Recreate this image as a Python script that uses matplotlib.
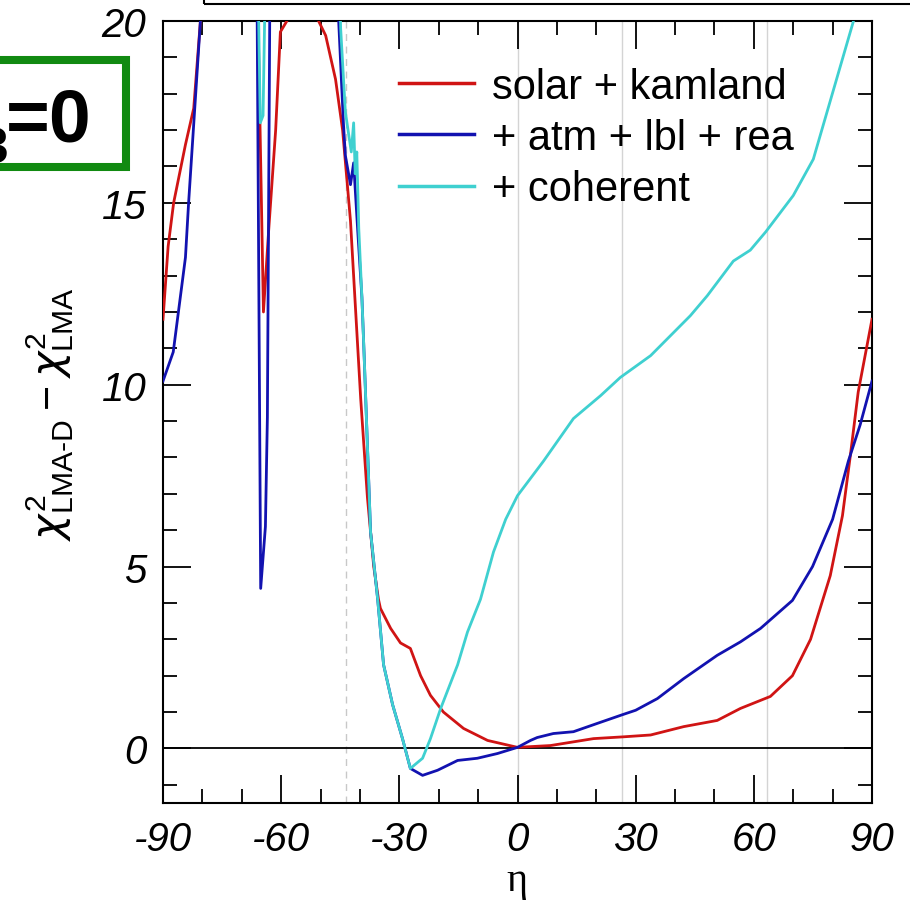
import numpy as np
import matplotlib
matplotlib.use("Agg")
import matplotlib.pyplot as plt
from matplotlib.ticker import MultipleLocator
from matplotlib.patches import Rectangle

plt.rcParams['font.family'] = ['Liberation Sans', 'DejaVu Sans']
plt.rcParams['mathtext.fontset'] = 'custom'
plt.rcParams['mathtext.rm'] = 'Liberation Sans'
plt.rcParams['mathtext.it'] = 'DejaVu Sans:italic'
plt.rcParams['axes.unicode_minus'] = False

# eta (deg) and delta chi^2 for each data combination
eta_sk = [-90, -88.7, -87.3, -84.3, -82.2, -80.5, -78, -70, -67, -66.2, -64.5, -63.2,
          -61.4, -60.2, -58, -55, -52, -50.5, -48.7, -46.2, -44.4, -42.4, -40.6, -39.8,
          -38.1, -36.5, -35.3, -34.8, -32.2, -29.7, -27.2, -24.6, -22.1, -18.8, -13.7,
          -7.6, 0, 8.4, 19.3, 27, 33.8, 42.2, 50.7, 56.6, 64.2, 69.8, 74.4, 79.4, 82.5,
          84.5, 86.5, 90]
chi_sk = [11.8, 13.8, 15.0, 16.6, 17.6, 20.0, 23, 30, 30, 22, 12.0, 14.2,
          17.0, 19.7, 20.1, 21.0, 20.8, 20.0, 19.6, 18.4, 17.0, 14.5, 11.1, 9.6,
          6.9, 5.0, 4.1, 3.85, 3.3, 2.9, 2.75, 2.0, 1.46, 1.0, 0.55,
          0.22, 0.03, 0.08, 0.27, 0.32, 0.37, 0.6, 0.77, 1.1, 1.43, 2.0, 3.0, 4.75, 6.4,
          8.05, 9.8, 11.8]

eta_glob = [-90, -87.4, -84.3, -83.5, -80.5, -78, -70, -67, -66.2, -65.2, -64.0, -63.5,
            -62.8, -55, -47, -45.4, -44.2, -43.7, -42.4, -41.6, -40.6, -39.5, -39.0,
            -37.3, -35.5, -34, -31.7, -29.2, -27.2, -24.1, -20.3, -15.2, -10.2, -5.1,
            0, 3.3, 5, 9.1, 14.2, 20.3, 26.7, 30, 35.5, 42.2, 50.7, 56.6, 61.7, 69.8,
            74.9, 80, 84, 87, 90]
chi_glob = [10.1, 10.9, 13.5, 15.0, 20.0, 23, 30, 30, 22, 4.4, 6.1, 9.1,
            22, 30, 30, 20.0, 17.2, 16.3, 15.5, 16.1, 14.3, 12.4, 11.0,
            5.95, 4.1, 2.3, 1.2, 0.27, -0.55, -0.74, -0.6, -0.33, -0.27, -0.14,
            0.03, 0.22, 0.3, 0.41, 0.46, 0.69, 0.93, 1.05, 1.37, 1.92, 2.56, 2.93, 3.3, 4.07,
            5.0, 6.3, 7.9, 8.9, 10.1]

eta_coh = [-90, -80, -67, -66.0, -65.3, -64.6, -63.9, -55, -47, -44.9, -43.7, -42.2,
           -41.6, -41.2, -40.8, -40.3, -39.5, -39.0, -37.3, -35.5, -34, -31.7, -29.2,
           -27.2, -24.1, -22.1, -19.5, -15.2, -12.7, -9.4, -6.1, -3, 0, 6.6, 14.2, 21.1,
           26.1, 33.8, 43.9, 48.2, 54.8, 59.1, 63, 70, 75.1, 80.2, 85.3, 90]
chi_coh = [24, 30, 30, 22, 17.2, 17.4, 22, 30, 30, 19.8, 17.5, 16.4,
           17.2, 15.8, 16.4, 14.3, 12.4, 11.0, 5.95, 4.1, 2.3, 1.2, 0.27,
           -0.55, -0.27, 0.27, 1.1, 2.3, 3.2, 4.1, 5.4, 6.3, 6.95, 7.9, 9.07, 9.7,
           10.2, 10.8, 11.9, 12.45, 13.4, 13.7, 14.2, 15.2, 16.2, 18.1, 20.0, 23]

labels = ["solar + kamland", "+ atm + lbl + rea", "+ coherent"]
colors = ["#d01414", "#1212b0", "#3fd0d0"]

# reference couplings: proton (0), up quark, down quark; dashed = Earth cancellation
eta_ref = [0, 26.57, 63.43]
eta_earth = -43.6

fig = plt.figure(figsize=(9.1, 9.04), dpi=100)
ax = fig.add_axes([163 / 910, 1 - 804 / 904, 709 / 910, 782 / 904])

for e in eta_ref:
    ax.axvline(e, color="#d4d4d4", lw=1.0, zorder=1)
ax.axvline(eta_earth, color="#c8c8c8", lw=1.0, ls=(0, (5, 4)), zorder=1)
ax.axhline(0, color="black", lw=1.3, zorder=2)

ax.plot(eta_sk, chi_sk, color=colors[0], lw=2.0, label=labels[0], zorder=3)
ax.plot(eta_glob, chi_glob, color=colors[1], lw=2.0, label=labels[1], zorder=4)
ax.plot(eta_coh, chi_coh, color=colors[2], lw=2.0, label=labels[2], zorder=5)

ax.set_xlim(-90, 90)
ax.set_ylim(-1.5, 20)
ax.set_xticks([-90, -60, -30, 0, 30, 60, 90])
ax.set_yticks([0, 5, 10, 15, 20])
ax.xaxis.set_minor_locator(MultipleLocator(10))
ax.yaxis.set_minor_locator(MultipleLocator(1))
ax.tick_params(which="both", direction="in", top=True, right=True, width=1.3)
ax.tick_params(which="major", length=20, labelsize=29, pad=12)
ax.tick_params(which="minor", length=10)
for lab in ax.get_xticklabels() + ax.get_yticklabels():
    lab.set_fontstyle("italic")
for s in ax.spines.values():
    s.set_linewidth(1.5)

leg = ax.legend(loc="upper left", bbox_to_anchor=(0.310, 0.963), frameon=False,
                fontsize=30, handlelength=1.8, handletextpad=0.43, labelspacing=0.27,
                borderaxespad=0)
for h in leg.get_lines():
    h.set_linewidth(2.5)

fig.text(50 / 910, 1 - 414 / 904, r"$\chi^2_{\text{LMA-D}} - \chi^2_{\text{LMA}}$",
         rotation=90, ha="center", va="center", fontsize=31)
fig.text(517 / 910, 1 - 882 / 904, "η", family=["Liberation Serif", "DejaVu Serif"],
         ha="center", va="center", fontsize=29)

# panel tag on the left and frame edge at the top
fig.add_artist(Rectangle((-20 / 910, 1 - 168 / 904), 146 / 910, 107 / 904, fill=False,
                         edgecolor="#118a11", lw=5.8, transform=fig.transFigure))
fig.text(92 / 910, 1 - 142 / 904, "=0", fontsize=54, fontweight="bold",
         ha="right", va="baseline")
fig.text(9 / 910, 1 - 163 / 904, "13", fontsize=36, fontweight="bold",
         ha="right", va="baseline")
fig.add_artist(Rectangle((204 / 910, 1 - 5 / 904), 1.0, 0.1, fill=False,
                         edgecolor="black", lw=1.5, transform=fig.transFigure))

fig.savefig("out.png", dpi=100)
